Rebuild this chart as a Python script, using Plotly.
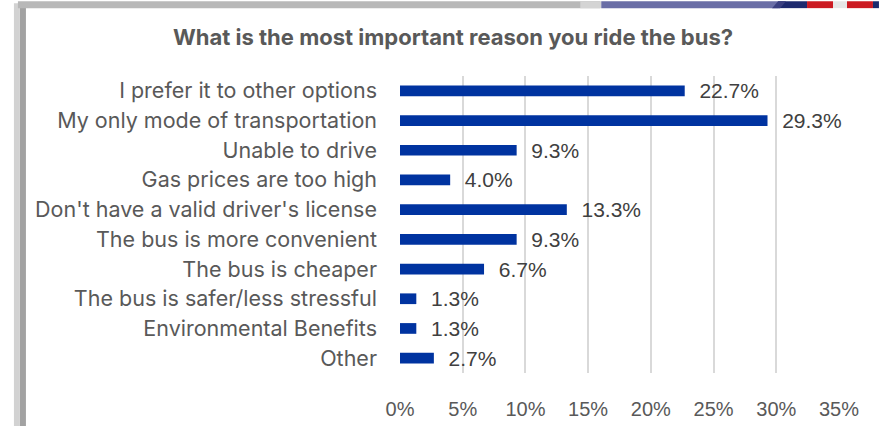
import plotly.graph_objects as go

categories = ["I prefer it to other options", "My only mode of transportation", "Unable to drive",
              "Gas prices are too high", "Don't have a valid driver's license", "The bus is more convenient",
              "The bus is cheaper", "The bus is safer/less stressful", "Environmental Benefits", "Other"]
values = [22.7, 29.3, 9.3, 4.0, 13.3, 9.3, 6.7, 1.3, 1.3, 2.7]
tick_vals = [0, 5, 10, 15, 20, 25, 30, 35]
tick_text = ["0%", "5%", "10%", "15%", "20%", "25%", "30%", "35%"]
title = "What is the most important reason you ride the bus?"

W, H = 879, 432
L, R, T, B = 399.5, 839, 76, 378

def px(x):
    return (x - L) / (R - L)

def py(y):
    return (B - y) / (B - T)

def rect(x0, x1, y0, y1, color, layer="above"):
    return dict(type="rect", xref="paper", yref="paper", x0=px(x0), x1=px(x1), y0=py(y1), y1=py(y0),
                fillcolor=color, line=dict(width=0), layer=layer)

fig = go.Figure(go.Bar(
    y=categories, x=values, orientation="h",
    marker=dict(color="#0033a0", line=dict(width=0)),
    text=["  %.1f%%" % v for v in values], textposition="outside", constraintext="none",
    textfont=dict(family="Liberation Sans, Arial", size=21, color="#404040"),
    cliponaxis=False, width=0.36,
))

shapes = []
# left shadow
shapes.append(rect(13, 19, 2, H, "#d2d2d2", "above"))
shapes.append(rect(19, 25, 4, H, "#a2a2a2", "below"))
# top shadow
shapes.append(rect(17, 600, 0, 7, "#b8b8b8", "above"))
# top-right decoration
deco = [(580, 601, "#d4d4d4"), (601, 778, "#6a6ea6"), (778, 807, "#1e2a6e"), (807, 833, "#cc1a22"),
        (833, 847, "#e6e6e6"), (847, 873, "#cc1a22"), (873, 879, "#1a2a6c")]
for x0, x1, c in deco:
    shapes.append(rect(x0, x1, 0, 7, c))
shapes.append(dict(type="path", xref="paper", yref="paper",
                   path="M %f,%f L %f,%f L %f,%f L %f,%f Z" % (px(772), py(7), px(780), py(7), px(786), py(0), px(778), py(0)),
                   fillcolor="#3a3f80", line=dict(width=0), layer="above"))

fig.update_layout(
    width=W, height=H,
    margin=dict(l=L, r=W - R, t=T, b=H - B, pad=0),
    paper_bgcolor="white", plot_bgcolor="rgba(0,0,0,0)",
    showlegend=False,
    title=dict(text="<b>" + title + "</b>", x=453 / W, xanchor="center", y=1 - 37 / H, yanchor="middle",
               font=dict(family="Inter, Open Sans, sans-serif", size=22, color="#595959")),
    xaxis=dict(range=[0, 35], tickvals=tick_vals, ticktext=tick_text, showgrid=True, gridcolor="#d9d9d9",
               gridwidth=1.5, zeroline=False, showline=False, ticks="", ticklabelstandoff=22,
               tickfont=dict(family="Liberation Sans, Arial", size=20, color="#595959")),
    yaxis=dict(autorange="reversed", showgrid=False, zeroline=False, showline=False, ticks="",
               ticklabelstandoff=22,
               tickfont=dict(family="Inter, Open Sans, sans-serif", size=21.5, color="#595959")),
    shapes=shapes,
)
fig.write_html("out.html")
